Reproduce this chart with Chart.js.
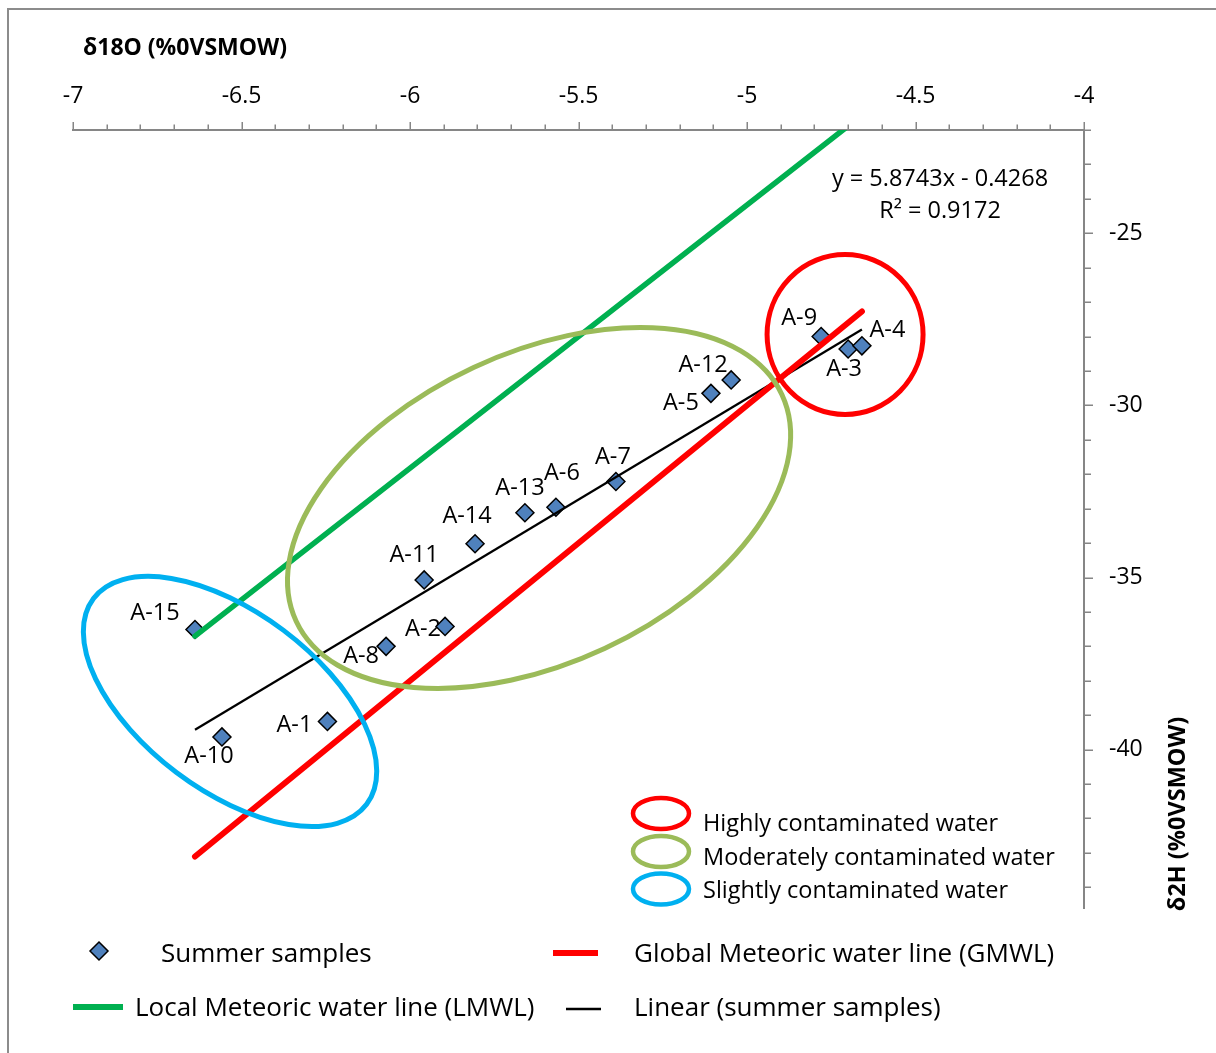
<!DOCTYPE html>
<html>
<head>
<meta charset="utf-8">
<script src="https://cdn.jsdelivr.net/npm/chart.js@4.4.1/dist/chart.umd.min.js"></script>
<style>
  html, body { margin: 0; padding: 0; background: #ffffff; }
  #wrap { width: 1216px; height: 1053px; position: relative; }
</style>
</head>
<body>
<div id="wrap"><canvas id="chart"></canvas></div>
<script>
// ---- sample data: summer samples, δ18O vs δ2H (‰ VSMOW) ----
const sampleNames = ['A-1', 'A-2', 'A-3', 'A-4', 'A-5', 'A-6', 'A-7', 'A-8',
                     'A-9', 'A-10', 'A-11', 'A-12', 'A-13', 'A-14', 'A-15'];
const d18O = [-6.245, -5.896, -4.700, -4.659, -5.107, -5.567, -5.389, -6.071,
              -4.780, -6.558, -5.958, -5.047, -5.659, -5.807, -6.638];
const d2H  = [-39.18, -36.42, -28.36, -28.27, -29.65, -32.96, -32.21, -37.00,
              -28.00, -39.63, -35.07, -29.26, -33.12, -34.02, -36.51];

// linear trend of the summer samples
const trendSlope = 5.8743;
const trendIntercept = -0.4268;
const trendR2 = 0.9172;

// Global Meteoric Water Line: δ2H = 8·δ18O + 10
const gmwlSlope = 8;
const gmwlIntercept = 10;

// Local Meteoric Water Line end points
const lmwlX = [-6.638, -4.659];
const lmwlY = [-36.70, -21.57];

// contamination groups (centre of each group in data units)
const groupNames = ['Highly contaminated water', 'Moderately contaminated water', 'Slightly contaminated water'];
const groupCentreX = [-4.709, -5.617, -6.534];
const groupCentreY = [-27.94, -32.98, -38.60];

// axes
const xMajorTicks = [-7, -6.5, -6, -5.5, -5, -4.5, -4];
const yMajorTicks = [-40, -35, -30, -25];
const xRange = [-7, -4];
const yRange = [-44.6, -22];

// ---- presentation ----
const FONT = "'Open Sans', 'DejaVu Sans', sans-serif";
const AXIS_GREY = '#868686';
const groupStyle = [
  { color: '#FF0000', rx: 78, ry: 80, rot: 0 },
  { color: '#9BBB59', rx: 268, ry: 155, rot: -25 },
  { color: '#00B0F0', rx: 171, ry: 89, rot: 37 }
];
// label offsets (cap-centre relative to the marker), px
const labelOffsets = [
  [-33, 2], [-22, 1], [-4, 18.5], [25.5, -17.5], [-30, 8], [6, -36], [-3, -26], [-25, 8],
  [-22, -20], [-13, 18], [-10, -26], [-28, -16], [-5, -26], [-8, -29], [-40, -18]
];

const xMin = Math.min(...d18O), xMax = Math.max(...d18O);
const samplePoints = d18O.map((x, i) => ({ x: x, y: d2H[i] }));
const trendPoints = [xMin, xMax].map(x => ({ x: x, y: trendSlope * x + trendIntercept }));
const gmwlPoints = [xMin, xMax].map(x => ({ x: x, y: gmwlSlope * x + gmwlIntercept }));
const lmwlPoints = lmwlX.map((x, i) => ({ x: x, y: lmwlY[i] }));

function drawDiamond(ctx, x, y, r) {
  ctx.beginPath();
  ctx.moveTo(x, y - r); ctx.lineTo(x + r, y); ctx.lineTo(x, y + r); ctx.lineTo(x - r, y);
  ctx.closePath();
  ctx.fillStyle = '#4F81BD'; ctx.fill();
  ctx.lineWidth = 1.5; ctx.strokeStyle = '#000'; ctx.stroke();
}

// white background and outer frame
const framePlugin = {
  id: 'frame',
  beforeDraw(chart) {
    const ctx = chart.ctx;
    ctx.save();
    ctx.fillStyle = '#fff';
    ctx.fillRect(0, 0, chart.width, chart.height);
    ctx.strokeStyle = '#8c8c8c';
    ctx.lineWidth = 2;
    ctx.beginPath();
    ctx.moveTo(8, chart.height); ctx.lineTo(8, 9); ctx.lineTo(chart.width, 9);
    ctx.stroke();
    ctx.restore();
  }
};

// major / minor tick marks
const tickMarkPlugin = {
  id: 'tickMarks',
  afterDraw(chart) {
    const ctx = chart.ctx, xs = chart.scales.x, ys = chart.scales.y;
    const area = chart.chartArea;
    ctx.save();
    ctx.strokeStyle = AXIS_GREY;
    ctx.lineWidth = 1.5;
    ctx.beginPath();
    xs.ticks.forEach(t => {
      const px = Math.round(xs.getPixelForValue(t.value)) + 0.25;
      const len = xMajorTicks.includes(t.value) ? 8 : 5.5;
      ctx.moveTo(px, area.top); ctx.lineTo(px, area.top - len);
    });
    ys.ticks.forEach(t => {
      const py = Math.round(ys.getPixelForValue(t.value)) + 0.25;
      const len = yMajorTicks.includes(t.value) ? 9 : 7;
      ctx.moveTo(area.right, py); ctx.lineTo(area.right + len, py);
    });
    ctx.stroke();
    ctx.restore();
  }
};

// sample name labels
const sampleLabelPlugin = {
  id: 'sampleLabels',
  beforeDatasetsDraw(chart) {
    const meta = chart.getDatasetMeta(0);
    const ctx = chart.ctx;
    ctx.save();
    ctx.font = '23.5px ' + FONT;
    ctx.fillStyle = '#000';
    ctx.textAlign = 'center';
    ctx.textBaseline = 'alphabetic';
    meta.data.forEach((pt, i) => {
      const o = labelOffsets[i];
      ctx.fillText(sampleNames[i], pt.x + o[0], pt.y + o[1] + 8.4);
    });
    ctx.restore();
  }
};

// contamination group outlines
const groupPlugin = {
  id: 'groups',
  afterDatasetsDraw(chart) {
    const ctx = chart.ctx, xs = chart.scales.x, ys = chart.scales.y;
    ctx.save();
    groupNames.forEach((name, i) => {
      const s = groupStyle[i];
      const cx = xs.getPixelForValue(groupCentreX[i]);
      const cy = ys.getPixelForValue(groupCentreY[i]);
      ctx.beginPath();
      ctx.ellipse(cx, cy, s.rx, s.ry, s.rot * Math.PI / 180, 0, Math.PI * 2);
      ctx.lineWidth = 5;
      ctx.strokeStyle = s.color;
      ctx.stroke();
    });
    ctx.restore();
  }
};

// axis titles, trend equation and legends
const annotationPlugin = {
  id: 'annotations',
  afterDraw(chart) {
    const ctx = chart.ctx;
    const ds = chart.data.datasets;
    ctx.save();
    ctx.fillStyle = '#000';

    // axis titles
    ctx.font = 'bold 23px ' + FONT;
    ctx.textAlign = 'left';
    ctx.textBaseline = 'alphabetic';
    ctx.fillText('δ18O (%0VSMOW)', 83, 55);
    ctx.save();
    ctx.font = 'bold 23.5px ' + FONT;
    ctx.translate(1185, 814);
    ctx.rotate(-Math.PI / 2);
    ctx.textAlign = 'center';
    ctx.fillText('δ2H (%0VSMOW)', 0, 0);
    ctx.restore();

    // trend equation
    ctx.font = '23.5px ' + FONT;
    ctx.textAlign = 'center';
    const sign = trendIntercept < 0 ? ' - ' : ' + ';
    ctx.fillText('y = ' + trendSlope.toFixed(4) + 'x' + sign + Math.abs(trendIntercept).toFixed(4), 940, 186);
    ctx.fillText('R² = ' + trendR2.toFixed(4), 940, 218);

    // group legend
    ctx.textAlign = 'left';
    const gy = [813.5, 851.5, 889];
    const gty = [831, 864.5, 897.5];
    groupNames.forEach((name, i) => {
      ctx.beginPath();
      ctx.ellipse(661, gy[i], 28, 15.5, 0, 0, Math.PI * 2);
      ctx.lineWidth = 4.5;
      ctx.strokeStyle = groupStyle[i].color;
      ctx.stroke();
      ctx.fillText(name, 703, gty[i]);
    });

    // series legend
    ctx.font = '26px ' + FONT;
    drawDiamond(ctx, 99, 951, 9);
    ctx.fillStyle = '#000';
    ctx.fillText(ds[0].label, 161, 962);

    ctx.lineCap = 'butt';
    ctx.strokeStyle = ds[3].borderColor; ctx.lineWidth = 6;
    ctx.beginPath(); ctx.moveTo(553, 953); ctx.lineTo(598, 953); ctx.stroke();
    ctx.fillText(ds[3].label, 634, 962);

    ctx.strokeStyle = ds[2].borderColor; ctx.lineWidth = 6;
    ctx.beginPath(); ctx.moveTo(73, 1007); ctx.lineTo(123, 1007); ctx.stroke();
    ctx.fillText(ds[2].label, 135, 1016);

    ctx.strokeStyle = ds[1].borderColor; ctx.lineWidth = 2.5;
    ctx.beginPath(); ctx.moveTo(566, 1009); ctx.lineTo(601, 1009); ctx.stroke();
    ctx.fillText(ds[1].label, 634, 1016);

    ctx.restore();
  }
};

new Chart(document.getElementById('chart'), {
  type: 'scatter',
  data: {
    datasets: [
      {
        label: 'Summer samples',
        data: samplePoints,
        pointStyle: 'rectRot',
        pointRadius: 9,
        pointHoverRadius: 9,
        backgroundColor: '#4F81BD',
        borderColor: '#000000',
        borderWidth: 1.5,
        order: 3
      },
      {
        label: 'Linear (summer samples)',
        data: trendPoints,
        showLine: true,
        pointRadius: 0,
        borderColor: '#000000',
        borderWidth: 2.2,
        order: 2
      },
      {
        label: 'Local Meteoric water line (LMWL)',
        data: lmwlPoints,
        showLine: true,
        pointRadius: 0,
        borderColor: '#00B050',
        borderWidth: 5.5,
        borderCapStyle: 'round',
        order: 1
      },
      {
        label: 'Global Meteoric water line (GMWL)',
        data: gmwlPoints,
        showLine: true,
        pointRadius: 0,
        borderColor: '#FF0000',
        borderWidth: 6,
        borderCapStyle: 'round',
        order: 0
      }
    ]
  },
  options: {
    responsive: true,
    maintainAspectRatio: false,
    devicePixelRatio: 1,
    animation: false,
    events: [],
    layout: { padding: { left: 73, right: 0, top: 0, bottom: 145 } },
    plugins: {
      legend: { display: false },
      tooltip: { enabled: false },
      title: { display: false }
    },
    scales: {
      x: {
        type: 'linear',
        position: 'top',
        min: xRange[0],
        max: xRange[1],
        afterBuildTicks(scale) {
          const t = [];
          for (let i = 0; i <= 30; i++) t.push({ value: Math.round((xRange[0] + i * 0.1) * 10) / 10 });
          scale.ticks = t;
        },
        afterFit(scale) { scale.height = 130; },
        ticks: {
          autoSkip: false,
          maxRotation: 0,
          minRotation: 0,
          padding: 12,
          color: '#000',
          font: { family: FONT, size: 23 },
          callback: v => (xMajorTicks.includes(v) ? String(v) : '')
        },
        grid: { display: true, drawOnChartArea: false, drawTicks: true, tickLength: 8, tickColor: 'rgba(0,0,0,0)' },
        border: { display: true, color: AXIS_GREY, width: 2 }
      },
      y: {
        type: 'linear',
        position: 'right',
        min: yRange[0],
        max: yRange[1],
        afterBuildTicks(scale) {
          const t = [];
          for (let v = Math.ceil(yRange[0]); v <= yRange[1]; v++) t.push({ value: v });
          scale.ticks = t;
        },
        afterFit(scale) { scale.width = 132; },
        ticks: {
          autoSkip: false,
          padding: 17,
          color: '#000',
          font: { family: FONT, size: 23 },
          callback: v => (yMajorTicks.includes(v) ? String(v) : '')
        },
        grid: { display: true, drawOnChartArea: false, drawTicks: true, tickLength: 8, tickColor: 'rgba(0,0,0,0)' },
        border: { display: true, color: AXIS_GREY, width: 2 }
      }
    }
  },
  plugins: [framePlugin, sampleLabelPlugin, groupPlugin, tickMarkPlugin, annotationPlugin]
});
</script>
</body>
</html>
